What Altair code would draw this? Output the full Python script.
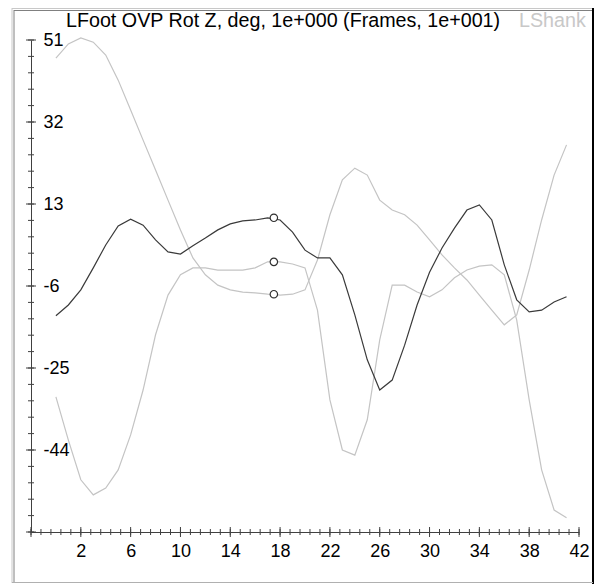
import altair as alt
import pandas as pd

# ---------------- data ----------------
frames = list(range(42))
lfoot = [-12.9, -10.4, -6.9, -1.8, 3.5, 7.9, 9.5, 8.1, 4.7, 1.9, 1.4, 3.3, 5.1, 7.0,
         8.4, 9.1, 9.3, 9.8, 9.3, 6.5, 2.3, 0.5, 0.5, -3.4, -12.7, -23.1, -30.1, -27.8,
         -19.7, -10.4, -2.8, 2.8, 7.4, 11.6, 12.8, 9.3, -1.1, -9.2, -12.0, -11.6, -9.7, -8.5]
shank_a = [46.8, 50.1, 51.5, 50.5, 47.5, 41.7, 34.8, 27.8, 20.9, 13.9, 7.0, 0.5, -3.4, -5.8,
           -6.9, -7.4, -7.6, -7.9, -8.1, -7.9, -6.9, 0.0, 10.5, 18.6, 21.3, 19.7, 13.9, 11.6,
           10.5, 8.1, 4.7, 1.2, -1.8, -4.6, -8.1, -11.6, -15.0, -12.7, -2.3, 9.3, 19.7, 26.7]
shank_b = [-31.7, -41.7, -50.9, -54.4, -52.8, -48.6, -40.5, -30.1, -17.3, -8.1, -3.4, -1.8,
           -1.8, -2.3, -2.3, -2.3, -1.8, -0.4, -0.4, -0.9, -1.8, -11.6, -32.4, -44.0, -45.2,
           -37.0, -18.5, -5.8, -5.8, -7.4, -8.5, -6.9, -4.1, -2.3, -1.4, -1.1, -3.4, -13.9,
           -32.4, -48.6, -57.9, -59.7]
series_names = ["LShank A", "LShank B", "LFoot"]
series_colors = ["#c4c4c4", "#c4c4c4", "#3a3a3a"]

cursor_frame = 17.5
cursor_values = [9.8, -0.4, -7.9]

title_main = "LFoot OVP Rot Z, deg, 1e+000 (Frames, 1e+001)"
title_extra = "LShank"

y_labels = [51, 32, 13, -6, -25, -44]
y_major = [51, 32, 13, -6, -25, -44, -63]
y_minor = [round(51 - 3.8 * i, 1) for i in range(31)]
x_labels = [2, 6, 10, 14, 18, 22, 26, 30, 34, 38, 42]
x_major = [-2, 2, 6, 10, 14, 18, 22, 26, 30, 34, 38, 42]
x_minor = [round(-2 + 0.8 * i, 1) for i in range(56)]

# ---------------- tables ----------------
rows = []
for name, vals in zip(series_names, [shank_a, shank_b, lfoot]):
    for f, v in zip(frames, vals):
        rows.append({"frame": f, "value": v, "series": name})
lines_df = pd.DataFrame(rows)
cursor_df = pd.DataFrame({"frame": [cursor_frame] * 3, "value": cursor_values})

FONT = "Liberation Sans, Arial, sans-serif"
AX = "#404040"

x_scale = alt.Scale(domain=[-2, 42], nice=False, zero=False)
y_scale = alt.Scale(domain=[-63, 51], nice=False, zero=False)

x_axis = alt.Axis(
    values=x_labels, title=None, orient="bottom",
    domainColor=AX, domainWidth=1, ticks=False, grid=False,
    labelExpr="'' + datum.value",
    labelAlign="center", labelBaseline="top", labelPadding=10,
    labelFont=FONT, labelFontSize=18, labelColor="#000",
    labelOverlap=False, labelBound=False, labelFlush=False,
)
y_axis = alt.Axis(
    values=y_labels, title=None, orient="left",
    domainColor=AX, domainWidth=1, ticks=False, grid=False,
    labelExpr="'' + datum.value",
    labelAlign="left", labelBaseline="middle", labelPadding=-12,
    labelFont=FONT, labelFontSize=18, labelColor="#000",
    labelOverlap=False, labelBound=False, labelFlush=False,
)

lines = alt.Chart(lines_df).mark_line(strokeWidth=1.2, clip=False).encode(
    x=alt.X("frame:Q", scale=x_scale, axis=x_axis),
    y=alt.Y("value:Q", scale=y_scale, axis=y_axis),
    color=alt.Color("series:N", scale=alt.Scale(domain=series_names, range=series_colors), legend=None),
    detail="series:N",
)

cursor = alt.Chart(cursor_df).mark_point(
    shape="circle", filled=True, fill="white", stroke="#303030", strokeWidth=1.2, size=55, opacity=1
).encode(
    x=alt.X("frame:Q", scale=x_scale),
    y=alt.Y("value:Q", scale=y_scale),
)

# crossing tick marks on both axes, positioned through the shared scales
def y_ticks_layer(vals, half):
    return alt.Chart(pd.DataFrame({"v": vals})).mark_rule(color=AX, strokeWidth=1).encode(
        y=alt.Y("v:Q", scale=y_scale), x=alt.value(-half), x2=alt.value(half))

def x_ticks_layer(vals, half):
    return alt.Chart(pd.DataFrame({"v": vals})).mark_rule(color=AX, strokeWidth=1).encode(
        x=alt.X("v:Q", scale=x_scale), y=alt.value(492 - half), y2=alt.value(492 + half))

ticks = [y_ticks_layer(y_minor, 3), y_ticks_layer(y_major, 5),
         x_ticks_layer(x_minor, 3), x_ticks_layer(x_major, 5)]

t1 = alt.Chart(pd.DataFrame({"t": [title_main]})).mark_text(
    align="left", baseline="alphabetic", font=FONT, fontSize=19.7, color="#000"
).encode(text="t:N", x=alt.value(35), y=alt.value(-13))
t2 = alt.Chart(pd.DataFrame({"t": [title_extra]})).mark_text(
    align="left", baseline="alphabetic", font=FONT, fontSize=19.7, color="#c8c8c8"
).encode(text="t:N", x=alt.value(488), y=alt.value(-13))

def vline(xpx, y1, y2, color, w):
    return alt.Chart(pd.DataFrame({"k": [0]})).mark_rule(color=color, strokeWidth=w).encode(
        x=alt.value(xpx), y=alt.value(y1), y2=alt.value(y2))

def hline(ypx, x1, x2, color, w):
    return alt.Chart(pd.DataFrame({"k": [0]})).mark_rule(color=color, strokeWidth=w).encode(
        y=alt.value(ypx), x=alt.value(x1), x2=alt.value(x2))

frame_parts = [
    vline(-19, -32, 543, "#c8c8c8", 1), vline(-17, -30, 543, "#808080", 1),
    hline(-31.5, -19, 563, "#c8c8c8", 1), hline(-29.5, -17, 563, "#808080", 1),
    vline(562, -32, 544, "#000000", 2),
    hline(542.5, -19, 562, "#b0b0b0", 1),
]

chart = alt.layer(lines, *ticks, cursor, t1, t2, *frame_parts).properties(
    width=548, height=492,
    autosize=alt.AutoSizeParams(type="none"),
    padding={"left": 23, "top": 32, "right": 15, "bottom": 52},
    background="white",
).configure_view(strokeWidth=0)

chart.save("out.html", embed_options={"renderer": "svg", "actions": False})
